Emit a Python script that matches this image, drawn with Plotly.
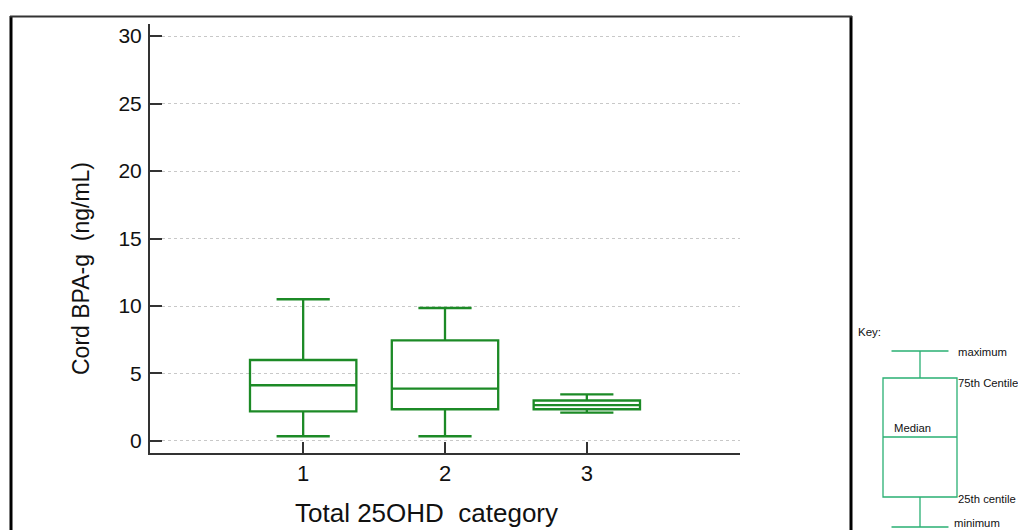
import plotly.graph_objects as go

# page body has an 8px default margin: the figure is sized to fill the rest
OFF = 8
W, H = 1026 - OFF, 530 - OFF

# ---- data ----
categories = [1, 2, 3]
upper_fence = [10.5, 9.85, 3.45]
q3_vals = [6.0, 7.45, 3.0]
medians = [4.13, 3.88, 2.65]
q1_vals = [2.2, 2.35, 2.35]
lower_fence = [0.35, 0.35, 2.1]
y_ticks = [0, 5, 10, 15, 20, 25, 30]

# key illustration (schematic values)
key_values = {"min": 3, "q1": 33, "median": 93, "q3": 152, "max": 179}
key_labels = ["maximum", "75th Centile", "Median", "25th centile", "minimum"]

GREEN = "#1c8a26"
KEYGREEN = "#2ab073"
FONT = "Arial, Liberation Sans, sans-serif"

def px_x(p):
    return (p - OFF) / W

def px_y(p):
    return (H - (p - OFF)) / H

fig = go.Figure()

fig.add_trace(go.Box(
    x=categories, q1=q1_vals, median=medians, q3=q3_vals,
    lowerfence=lower_fence, upperfence=upper_fence,
    width=0.75, whiskerwidth=0.5,
    line=dict(color=GREEN, width=2.3),
    fillcolor="rgba(255,255,255,0)",
    boxpoints=False, showlegend=False,
    xaxis="x", yaxis="y",
))

fig.add_trace(go.Box(
    x=[0], q1=[key_values["q1"]], median=[key_values["median"]], q3=[key_values["q3"]],
    lowerfence=[key_values["min"]], upperfence=[key_values["max"]],
    width=0.74, whiskerwidth=0.77,
    line=dict(color=KEYGREEN, width=1.3),
    fillcolor="rgba(255,255,255,0)",
    boxpoints=False, showlegend=False,
    xaxis="x2", yaxis="y2",
))

AXC = "#333333"
fig.update_layout(
    width=W, height=H,
    margin=dict(l=0, r=0, t=0, b=0),
    paper_bgcolor="white", plot_bgcolor="white",
    font=dict(family=FONT, color="#111"),
    xaxis=dict(
        domain=[px_x(150), px_x(740)],
        range=[-0.08, 4.08],
        tickvals=categories, ticktext=[str(c) for c in categories],
        ticks="inside", ticklen=11, tickwidth=2, tickcolor=AXC,
        showline=True, linecolor=AXC, linewidth=2,
        showgrid=False, zeroline=False,
        tickfont=dict(size=22, color="#111"),
        anchor="y",
    ),
    yaxis=dict(
        domain=[px_y(453), px_y(24)],
        range=[-0.89, 30.89],
        tickvals=y_ticks,
        ticks="inside", ticklen=12, tickwidth=2, tickcolor=AXC,
        showline=True, linecolor=AXC, linewidth=2,
        showgrid=True, gridcolor="#c8c8c8", gridwidth=1, griddash="dot",
        zeroline=False,
        tickfont=dict(size=21, color="#111"),
        ticklabelstandoff=2,
        anchor="x",
    ),
    xaxis2=dict(
        domain=[px_x(870), px_x(970)], range=[-0.5, 0.5],
        visible=False, anchor="y2",
    ),
    yaxis2=dict(
        domain=[0, px_y(340)], range=[0, 190],
        visible=False, anchor="x2",
    ),
)

# axis titles
fig.add_annotation(
    text="Cord BPA-g\u00a0 (ng/mL)", xref="paper", yref="paper",
    x=px_x(81), y=px_y(269), textangle=-90, showarrow=False,
    font=dict(size=23, color="#111", family=FONT),
    xanchor="center", yanchor="middle",
)
fig.add_annotation(
    text="Total 25OHD\u00a0 category", xref="paper", yref="paper",
    x=px_x(426), y=px_y(513), showarrow=False,
    font=dict(size=26, color="#111", family=FONT),
    xanchor="center", yanchor="middle",
)

# key labels
key_pos = [(956, 352), (956, 383), (892, 428), (956, 499), (952, 523)]
fig.add_annotation(text="Key:", xref="paper", yref="paper", x=px_x(856), y=px_y(332),
                   showarrow=False, xanchor="left", yanchor="middle",
                   font=dict(size=11.5, color="#111", family=FONT))
for lab, (lx, ly) in zip(key_labels, key_pos):
    fig.add_annotation(text=lab, xref="paper", yref="paper", x=px_x(lx), y=px_y(ly),
                       showarrow=False, xanchor="left", yanchor="middle",
                       font=dict(size=11.3, color="#111", family=FONT))

# outer frame
fig.add_shape(type="line", xref="paper", yref="paper",
              x0=px_x(11), x1=px_x(11), y0=px_y(16), y1=px_y(540),
              line=dict(color="black", width=3))
fig.add_shape(type="line", xref="paper", yref="paper",
              x0=px_x(851), x1=px_x(851), y0=px_y(16), y1=px_y(540),
              line=dict(color="black", width=3))
fig.add_shape(type="line", xref="paper", yref="paper",
              x0=px_x(10), x1=px_x(852), y0=px_y(16.5), y1=px_y(16.5),
              line=dict(color="#333", width=2))

fig.write_html("out.html")
